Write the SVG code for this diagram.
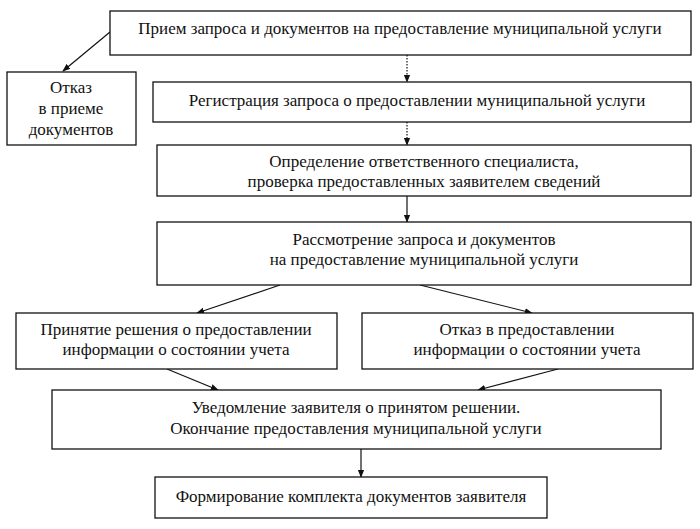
<svg xmlns="http://www.w3.org/2000/svg" width="700" height="529" viewBox="0 0 700 529">
<style>
.b{fill:#fff;stroke:#111;stroke-width:1.3}
.t{font-family:"Liberation Serif","Times New Roman",serif;font-size:17px;fill:#111;text-anchor:middle}
.c{stroke:#111;stroke-width:1.2;fill:none}
.d{stroke-dasharray:1.5 1.5}
</style>
<defs>
<marker id="a" viewBox="0 0 10 10" refX="9" refY="5" markerWidth="8" markerHeight="8" markerUnits="userSpaceOnUse" orient="auto">
<path d="M0,1 L10,5 L0,9 Z" fill="#111"/>
</marker>
</defs>
<rect width="700" height="529" fill="#fff"/>
<g id="connectors">
<line class="c" x1="110" y1="32" x2="63" y2="71" marker-end="url(#a)"/>
<line class="c d" x1="407" y1="55" x2="407" y2="82" marker-end="url(#a)"/>
<line class="c d" x1="407" y1="122" x2="407" y2="145" marker-end="url(#a)"/>
<line class="c" x1="407" y1="196" x2="407" y2="222" marker-end="url(#a)"/>
<line class="c" x1="280" y1="285" x2="197" y2="313" marker-end="url(#a)"/>
<line class="c" x1="420" y1="285" x2="532" y2="313" marker-end="url(#a)"/>
<line class="c" x1="167" y1="369" x2="218" y2="390" marker-end="url(#a)"/>
<line class="c" x1="558" y1="369" x2="478" y2="390" marker-end="url(#a)"/>
<line class="c" x1="361" y1="449" x2="361" y2="477" marker-end="url(#a)"/>
</g>
<g id="n1"><rect class="b" x="110" y="11" width="581" height="44"/>
<text class="t" x="400" y="34">Прием запроса и документов на предоставление муниципальной услуги</text></g>
<g id="n2"><rect class="b" x="7" y="72" width="129" height="73"/>
<text class="t" x="71" y="93">Отказ</text><text class="t" x="71" y="114">в приеме</text><text class="t" x="71" y="135">документов</text></g>
<g id="n3"><rect class="b" x="153" y="82" width="538" height="40"/>
<text class="t" x="417" y="106">Регистрация запроса о предоставлении муниципальной услуги</text></g>
<g id="n4"><rect class="b" x="157" y="145" width="534" height="51"/>
<text class="t" x="424" y="167">Определение ответственного специалиста,</text>
<text class="t" x="424" y="187">проверка предоставленных заявителем сведений</text></g>
<g id="n5"><rect class="b" x="157" y="222" width="534" height="63"/>
<text class="t" x="424" y="245">Рассмотрение запроса и документов</text>
<text class="t" x="424" y="265">на предоставление муниципальной услуги</text></g>
<g id="n6"><rect class="b" x="16" y="313" width="321" height="56"/>
<text class="t" x="176" y="335">Принятие решения о предоставлении</text>
<text class="t" x="176" y="355">информации о состоянии учета</text></g>
<g id="n7"><rect class="b" x="362" y="313" width="331" height="56"/>
<text class="t" x="527" y="335">Отказ в предоставлении</text>
<text class="t" x="527" y="355">информации о состоянии учета</text></g>
<g id="n8"><rect class="b" x="52" y="390" width="609" height="59"/>
<text class="t" x="356" y="413">Уведомление заявителя о принятом решении.</text>
<text class="t" x="356" y="434">Окончание предоставления муниципальной услуги</text></g>
<g id="n9"><rect class="b" x="155" y="477" width="392" height="41"/>
<text class="t" x="351" y="502">Формирование комплекта документов заявителя</text></g>
</svg>
